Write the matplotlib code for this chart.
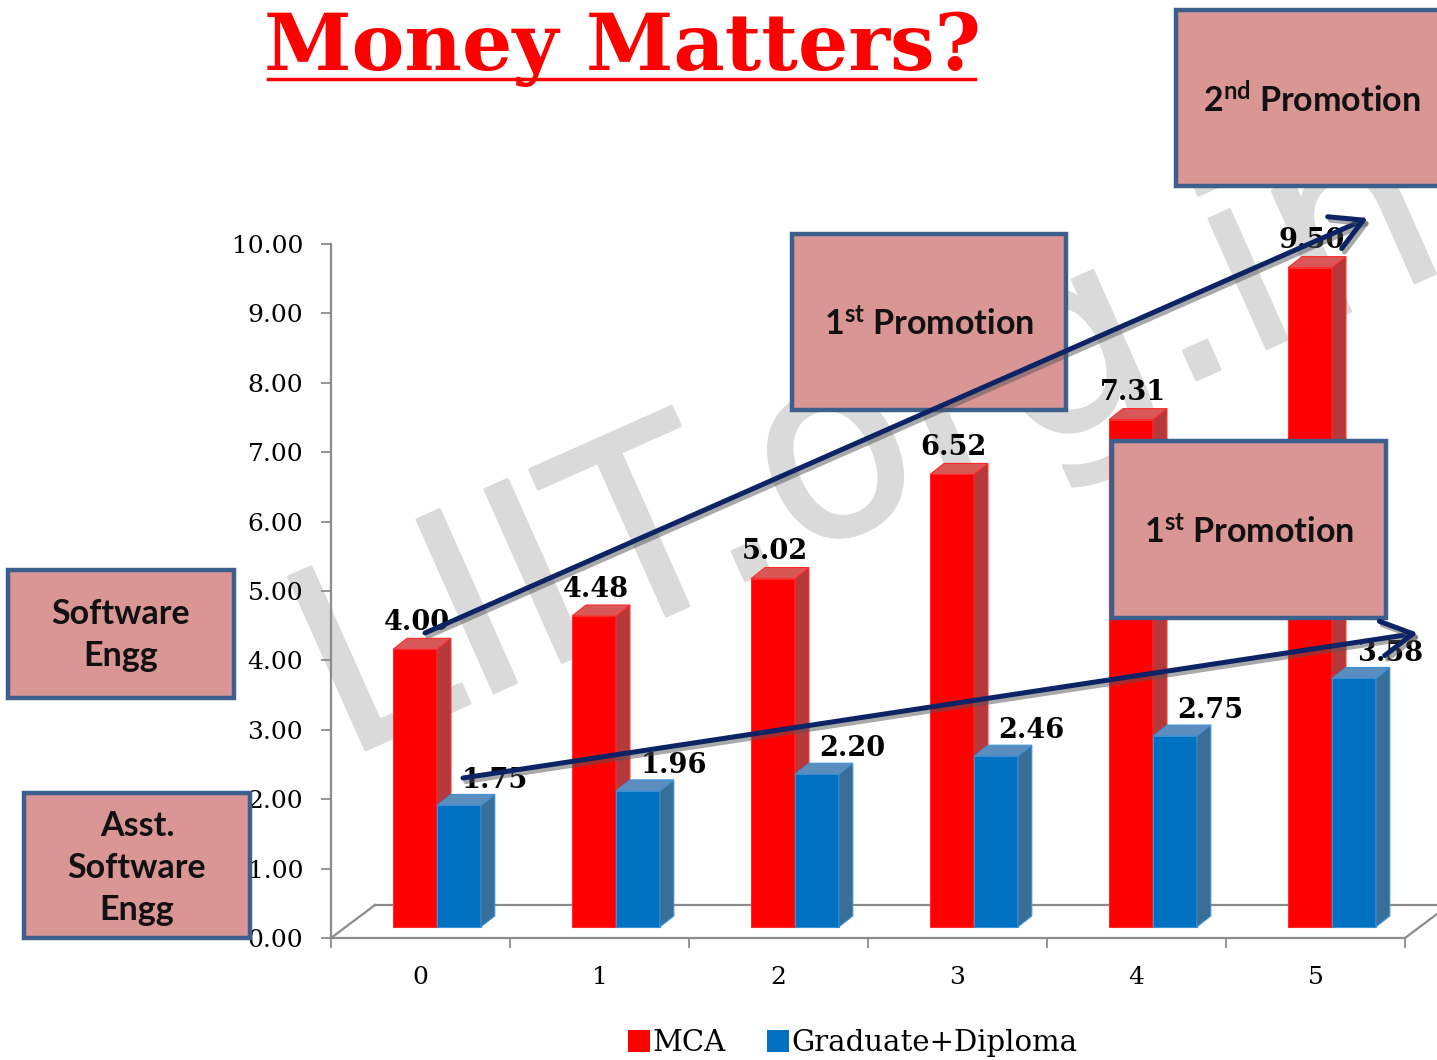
import matplotlib
matplotlib.use("Agg")
import matplotlib.pyplot as plt
import matplotlib.patheffects as pe
from matplotlib.patches import Rectangle, Polygon, FancyArrowPatch, PathPatch, Patch
from matplotlib.textpath import TextPath
from matplotlib.font_manager import FontProperties
from matplotlib.transforms import Affine2D, IdentityTransform
from matplotlib.lines import Line2D

# ---------------- data ----------------
years = [0, 1, 2, 3, 4, 5]
mca = [4.00, 4.48, 5.02, 6.52, 7.31, 9.50]
grad = [1.75, 1.96, 2.20, 2.46, 2.75, 3.58]
series_names = ["MCA", "Graduate+Diploma"]
y_ticks = [0, 1, 2, 3, 4, 5, 6, 7, 8, 9, 10]
title = "Money Matters?"

W, H = 1437, 1060
plt.rcParams['mathtext.fontset'] = 'custom'
plt.rcParams['mathtext.rm'] = 'Lato:bold'
plt.rcParams['mathtext.bf'] = 'Lato:bold'
plt.rcParams['mathtext.it'] = 'Lato:bold'

fig = plt.figure(figsize=(W / 100, H / 100), dpi=100)
fig.patch.set_facecolor("white")


def fx(x):
    return x / W


def fy(y):
    return 1 - y / H


ax = fig.add_axes([fx(331), fy(938), (1405 - 331) / W, (938 - 244) / H])
ax.set_xlim(-0.5, 5.5)
ax.set_ylim(0, 10)
ax.patch.set_alpha(0)

grey = "#8C8C8C"
serif = "DejaVu Serif"

# watermark
tp = TextPath((0, 0), "LIIT.org.in", size=260, prop=FontProperties(family="DejaVu Sans"))
tr = Affine2D().scale(0.97, 1).rotate_deg(24).translate(343, 300) + IdentityTransform()
wm = PathPatch(tp, facecolor="#DADADA", edgecolor="#DADADA", lw=2, joinstyle="round",
               transform=tr, zorder=0.2, clip_on=False)
ax.add_patch(wm)

# floor (3D base)
fdx, fdy = 0.246, 0.476
floor_kw = dict(color=grey, lw=1.6, clip_on=False, zorder=1)
ax.plot([-0.5, -0.5 + fdx], [0, fdy], **floor_kw)
ax.plot([-0.5 + fdx, 5.5 + fdx + 0.2], [fdy, fdy], **floor_kw)
ax.plot([5.5, 5.5 + fdx], [0, fdy], **floor_kw)

# bars
w = 0.245
lift = 0.16
ddx, ddy = 0.078, 0.158
specs = [
    (mca, -0.153, "#FF0000", "#B5383A", "#D85858", "#FF2A2A"),
    (grad, -0.153 + w, "#0070C0", "#386F99", "#5B8EBE", "#3A8FD6"),
]
for vals, off, cf, cs, ct, ce in specs:
    xl_list = [c + off for c in years]
    ax.bar([x + w / 2 for x in xl_list], vals, width=w, bottom=lift, color=cf,
           edgecolor=ce, linewidth=0.8, zorder=2)
    for xl, v in zip(xl_list, vals):
        xr = xl + w
        yt = lift + v
        side = Polygon([(xr, lift), (xr + ddx, lift + ddy), (xr + ddx, yt + ddy), (xr, yt)],
                       closed=True, facecolor=cs, edgecolor=ce, lw=0.8, zorder=2)
        top = Polygon([(xl, yt), (xl + ddx, yt + ddy), (xr + ddx, yt + ddy), (xr, yt)],
                      closed=True, facecolor=ct, edgecolor=ce, lw=0.8, zorder=2)
        ax.add_patch(side)
        ax.add_patch(top)

# data labels
for c, v in zip(years, mca):
    ax.text(c - 0.153 + w / 2 + 0.01, lift + v + ddy + 0.12, f"{v:.2f}", ha="center",
            va="baseline", fontsize=19.5, fontweight="bold", family=serif, zorder=3)
for c, v in zip(years, grad):
    ax.text(c - 0.153 + 1.5 * w + 0.2, lift + v + ddy + 0.1, f"{v:.2f}", ha="center",
            va="baseline", fontsize=19.5, fontweight="bold", family=serif, zorder=3)

# axes styling
for s in ["top", "right"]:
    ax.spines[s].set_visible(False)
for s in ["left", "bottom"]:
    ax.spines[s].set_color(grey)
    ax.spines[s].set_linewidth(1.6)
ax.set_yticks(y_ticks)
ax.set_yticklabels([f"{t:.2f}" for t in y_ticks], family=serif, fontsize=18)
ax.tick_params(axis="y", direction="out", length=7, width=1.3, color=grey, pad=13)
ax.set_xticks([c - 0.5 for c in years] + [5.5])
ax.set_xticklabels([])
ax.tick_params(axis="x", which="major", direction="out", length=7, width=1.3, color=grey)
ax.set_xticks(years, minor=True)
ax.set_xticklabels([str(c) for c in years], minor=True, family=serif, fontsize=18)
ax.tick_params(axis="x", which="minor", length=0, pad=20)

# title
fig.text(fx(622), fy(49), title, ha="center", va="center", fontsize=57,
         fontweight="bold", family=serif, color="#FF0000")
fig.add_artist(Line2D([fx(268), fx(975)], [fy(79), fy(79)], color="#FF0000", lw=2.5))

# boxes
box_fc = "#D99694"
box_ec = "#3C5F8C"
boxes = [
    (1176, 10, 1450, 186, r"2$^{\mathrm{nd}}$ Promotion", (1312, 100)),
    (792, 234, 1066, 410, r"1$^{\mathrm{st}}$ Promotion", (929, 324)),
    (1112, 441, 1386, 618, r"1$^{\mathrm{st}}$ Promotion", (1249, 532)),
    (8, 570, 234, 698, "Software\nEngg", (121, 635)),
    (24, 793, 250, 938, "Asst.\nSoftware\nEngg", (137, 868)),
]
for x0, y0, x1, y1, txt, (tx, ty) in boxes:
    r = Rectangle((fx(x0), fy(y1)), fx(x1) - fx(x0), fy(y0) - fy(y1), transform=fig.transFigure,
                  facecolor=box_fc, edgecolor=box_ec, lw=3.2, zorder=5)
    fig.add_artist(r)
    fig.text(fx(tx), fy(ty), txt, ha="center", va="center", fontsize=24.5,
             family="Lato", fontweight="bold", color="#111111", zorder=6,
             linespacing=1.4)

# arrows
arrow_col = "#0C2466"
for (x0, y0), (x1, y1) in [((425, 633), (1368, 218)), ((463, 778), (1418, 633))]:
    a = FancyArrowPatch((fx(x0), fy(y0)), (fx(x1), fy(y1)), transform=fig.transFigure,
                        arrowstyle="->,head_length=0.9,head_width=0.5", mutation_scale=25,
                        color=arrow_col, lw=3.6, zorder=7, shrinkA=0, shrinkB=0)
    a.set_path_effects([pe.SimpleLineShadow(offset=(2, -2.5), shadow_color="#555555", alpha=0.5),
                        pe.Normal()])
    fig.add_artist(a)

# legend
handles = [Patch(facecolor="#FF0000", edgecolor="none"), Patch(facecolor="#0070C0", edgecolor="none")]
fig.legend(handles, series_names, loc="center", bbox_to_anchor=(fx(853), fy(1043)), ncol=2,
           frameon=False, prop=FontProperties(family=serif, size=21), handlelength=0.75,
           handleheight=0.75, handletextpad=0.1, columnspacing=1.4)

fig.savefig("out.png", dpi=100)
